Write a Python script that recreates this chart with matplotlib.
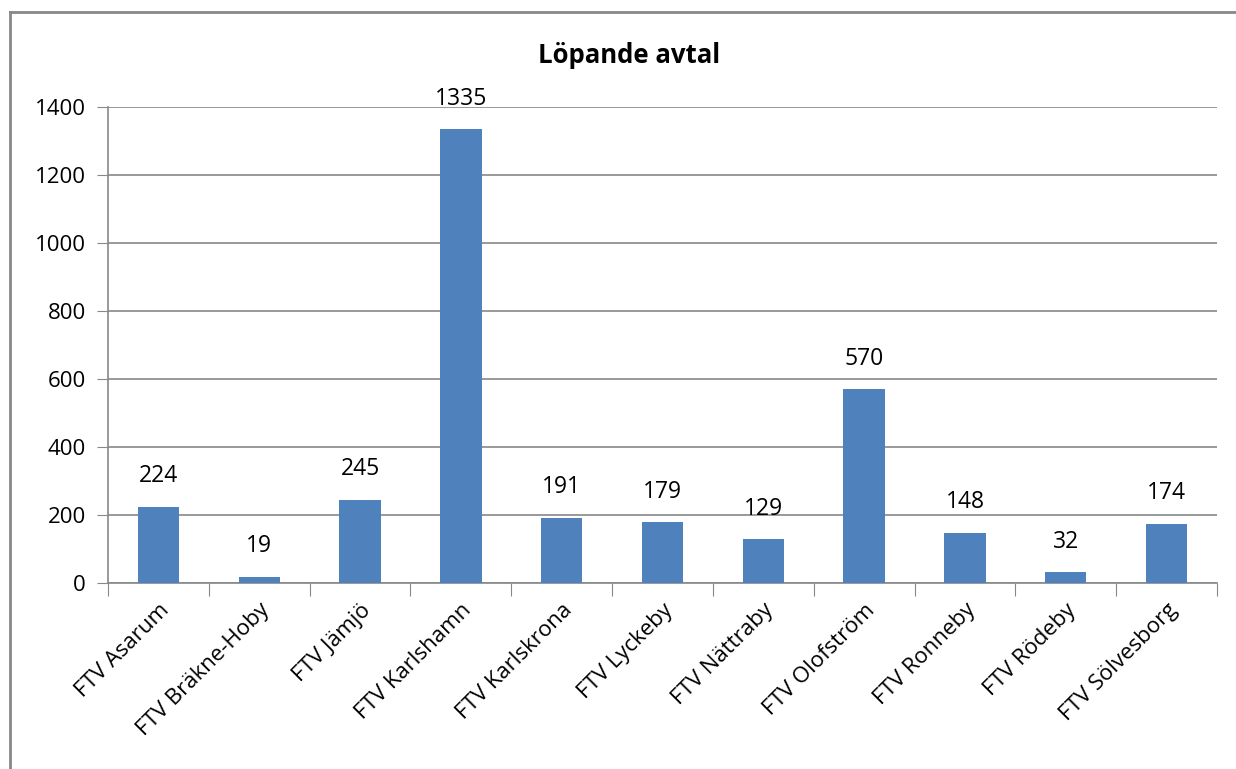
import matplotlib
matplotlib.use("Agg")
import matplotlib.pyplot as plt
from matplotlib.lines import Line2D

plt.rcParams["font.family"] = ["Open Sans", "DejaVu Sans"]

omraden = ["FTV Asarum", "FTV Bräkne-Hoby", "FTV Jämjö", "FTV Karlshamn",
           "FTV Karlskrona", "FTV Lyckeby", "FTV Nättraby", "FTV Olofström",
           "FTV Ronneby", "FTV Rödeby", "FTV Sölvesborg"]
avtal = [224, 19, 245, 1335, 191, 179, 129, 570, 148, 32, 174]
y_ticks = [0, 200, 400, 600, 800, 1000, 1200, 1400]

fig = plt.figure(figsize=(12.36, 7.69), dpi=100)
ax = fig.add_axes([0.0874, 0.2419, 0.8972, 0.619])

grid = "#888888"
x = list(range(len(omraden)))
ax.bar(x, avtal, width=0.41, color="#4F81BD", zorder=3)

for xi, v in zip(x, avtal):
    ax.annotate(str(v), (xi, v), xytext=(0, 22), textcoords="offset points",
                ha="center", va="center", fontsize=16.5, color="#000000")

ax.set_xlim(-0.5, len(omraden) - 0.5)
ax.set_ylim(0, 1400)
ax.set_yticks(y_ticks)
ax.yaxis.grid(True, color=grid, linewidth=1.2, zorder=0)
ax.tick_params(axis="y", length=8, color=grid, labelsize=16, pad=8)

# tick marks between categories, labels at category centres
ax.set_xticks([i - 0.5 for i in range(len(omraden) + 1)])
ax.set_xticklabels([])
ax.tick_params(axis="x", which="major", length=9, color=grid, direction="out")
ax.set_xticks(x, minor=True)
ax.set_xticklabels(omraden, minor=True, rotation=45, ha="right",
                   rotation_mode="anchor", fontsize=16)
ax.tick_params(axis="x", which="minor", length=0, pad=12)

for side in ["top", "right"]:
    ax.spines[side].set_visible(False)
for side in ["left", "bottom"]:
    ax.spines[side].set_color(grid)
    ax.spines[side].set_linewidth(1.2)

fig.text(0.509, 0.928, "Löpande avtal", ha="center", va="center",
         fontsize=18.5, fontweight="bold")

# outer chart frame (left and top edges)
fig.add_artist(Line2D([10 / 1236, 10 / 1236], [0, 1 - 12 / 769],
                      color=grid, linewidth=2, transform=fig.transFigure))
fig.add_artist(Line2D([10 / 1236, 1], [1 - 12 / 769, 1 - 12 / 769],
                      color=grid, linewidth=2, transform=fig.transFigure))

fig.savefig("out.png", dpi=100)
